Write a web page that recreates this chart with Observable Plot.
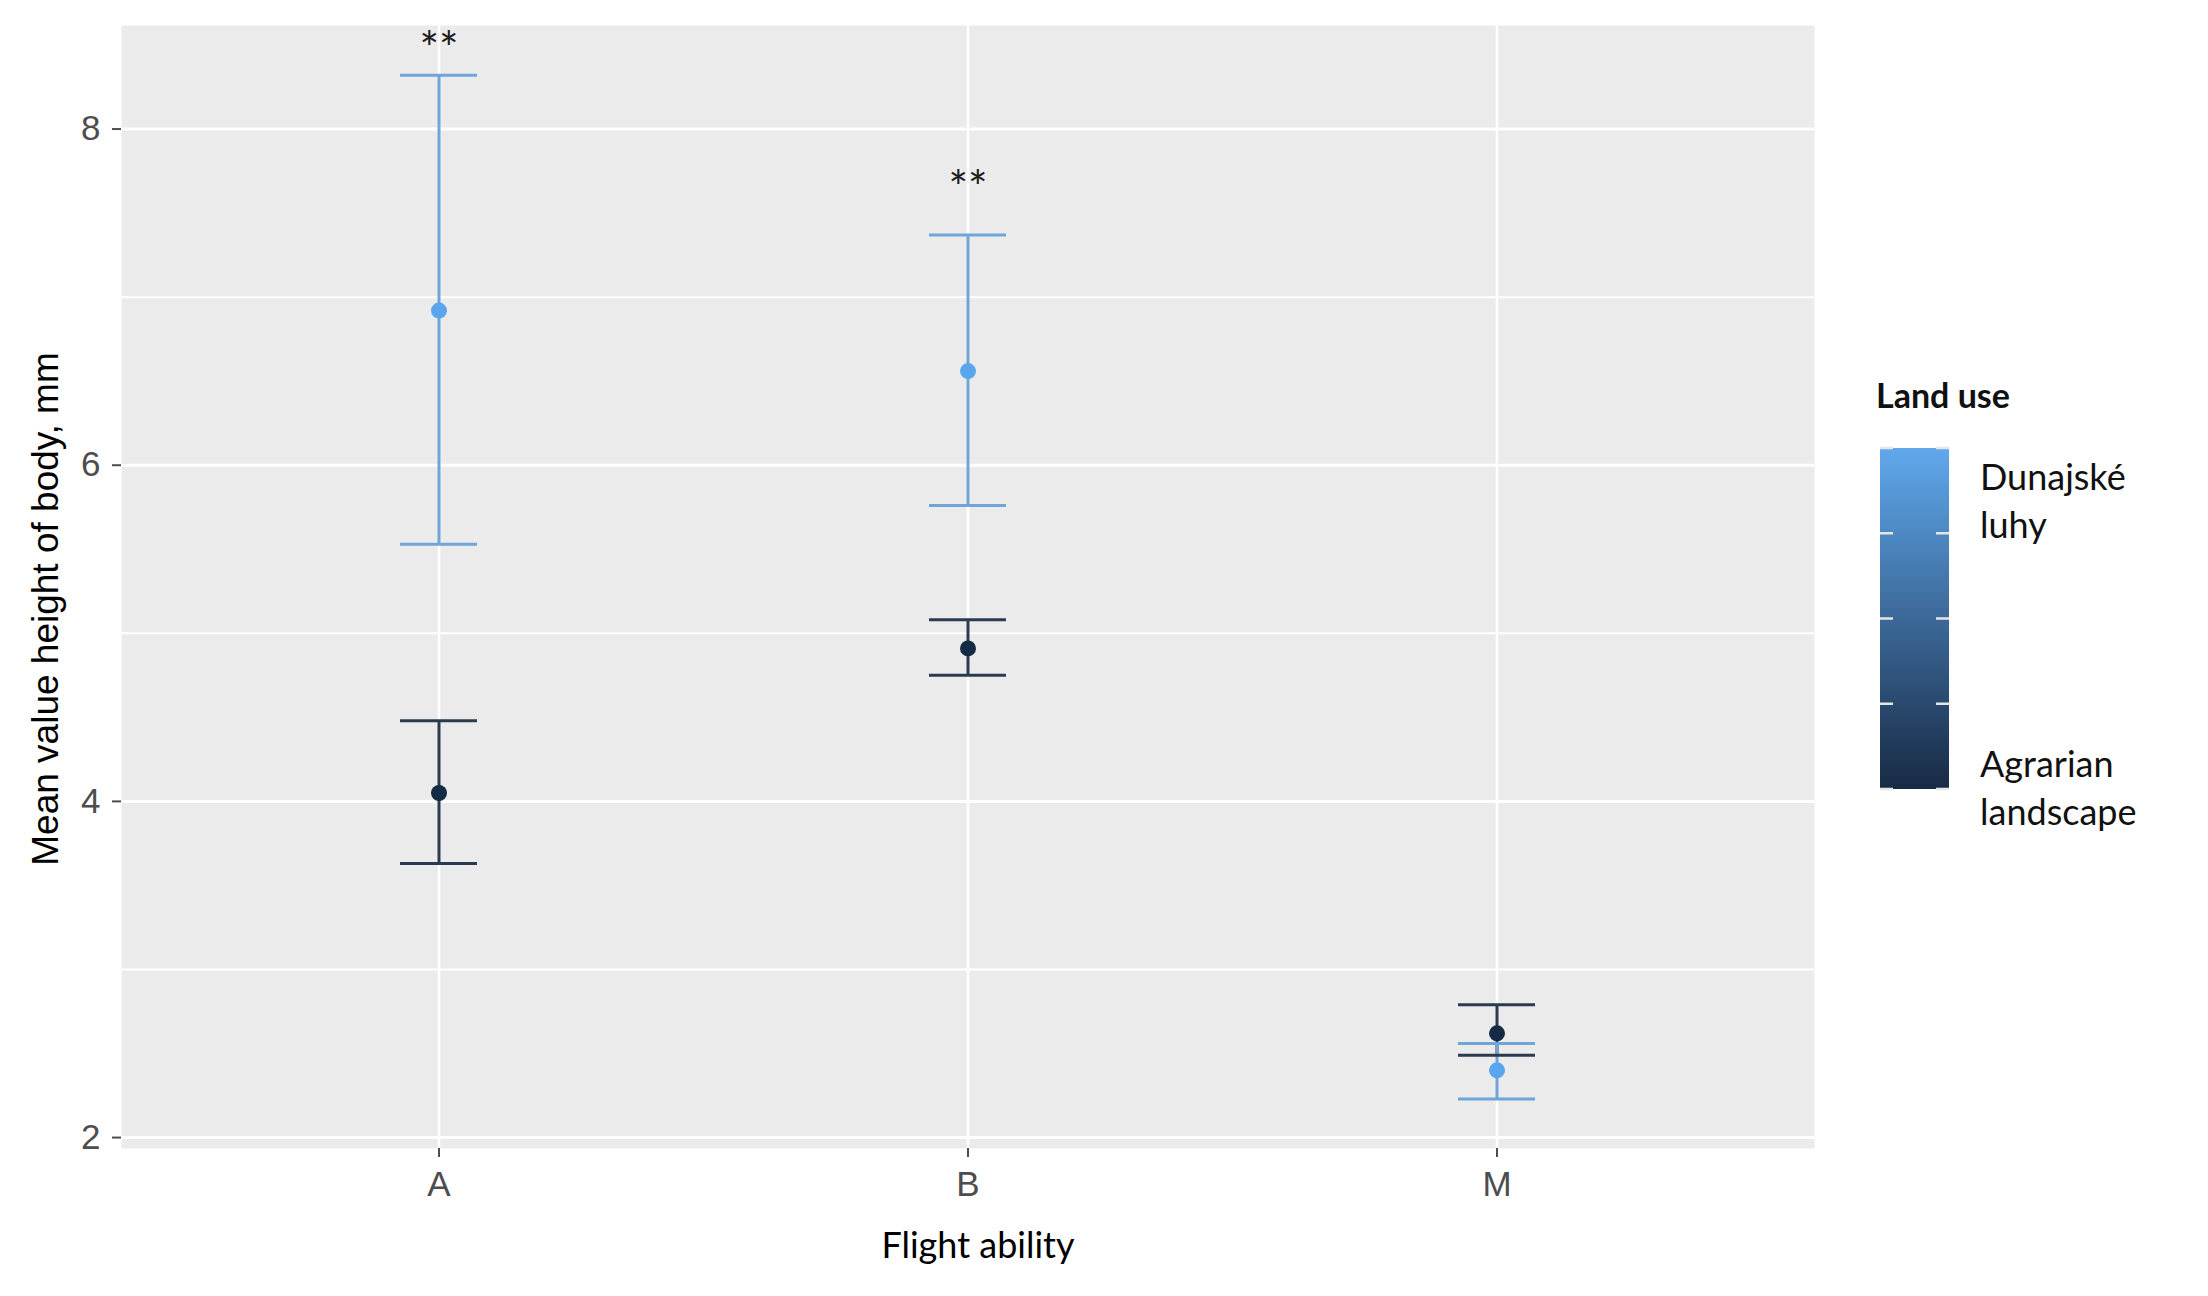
<!DOCTYPE html>
<html><head><meta charset="utf-8">
<script src="https://cdn.jsdelivr.net/npm/d3@7"></script>
<script src="https://cdn.jsdelivr.net/npm/@observablehq/plot@0.6"></script>
<style>
body{margin:0;background:#fff;}
#wrap{position:relative;width:2208px;height:1296px;overflow:hidden;background:#fff;}
#legend{position:absolute;left:0;top:0;pointer-events:none;}
</style></head><body>
<div id="wrap"><div id="chart"></div><svg id="legend" width="2208" height="1296" xmlns="http://www.w3.org/2000/svg"></svg></div>
<script>
// ---- data ----
const categories = ["A", "B", "M"];
const landUse = ["Dunajské luhy", "Agrarian landscape"];
const pointColors = ["#5AA6EC", "#132B43"];
const lineColors = ["#6FA5D8", "#2A3B4F"];
const gradientColors = ["#60A8EC", "#172A44"];
const dunajMean  = [6.92, 6.56, 2.40];
const dunajLower = [5.53, 5.76, 2.23];
const dunajUpper = [8.32, 7.37, 2.56];
const agrMean  = [4.05, 4.91, 2.62];
const agrLower = [3.63, 4.75, 2.49];
const agrUpper = [4.48, 5.08, 2.79];
const signifLabels = ["**", "**", ""];
const signifY = [8.47, 7.64, null];
const yTicks = [2, 4, 6, 8];
const yMinor = [3, 5, 7];
const legendTitle = "Land use";
const legendTop = ["Dunajské", "luhy"];
const legendBottom = ["Agrarian", "landscape"];
const xTitle = "Flight ability";
const yTitle = "Mean value height of body, mm";

const rows = [];
categories.forEach((c, i) => {
  rows.push({cat: c, group: landUse[1], mean: agrMean[i], lower: agrLower[i], upper: agrUpper[i], pc: pointColors[1], lc: lineColors[1]});
  rows.push({cat: c, group: landUse[0], mean: dunajMean[i], lower: dunajLower[i], upper: dunajUpper[i], pc: pointColors[0], lc: lineColors[0]});
});
const signifRows = categories.map((c, i) => ({cat: c, label: signifLabels[i], y: signifY[i]})).filter(d => d.label);

const plot = Plot.plot({
  width: 2208, height: 1296,
  marginLeft: 121, marginRight: 394, marginTop: 25, marginBottom: 148,
  style: {fontFamily: "'Liberation Sans', Arial, sans-serif", background: "white", overflow: "visible"},
  x: {type: "band", domain: categories, paddingInner: 0.854, paddingOuter: 0.527},
  y: {domain: [1.935, 8.616]},
  color: {type: "identity"},
  marks: [
    Plot.frame({fill: "#EBEBEB", stroke: "none"}),
    Plot.ruleY(yMinor, {stroke: "white", strokeWidth: 2}),
    Plot.ruleY(yTicks, {stroke: "white", strokeWidth: 3}),
    Plot.ruleX(categories, {x: d => d, stroke: "white", strokeWidth: 2.5}),
    Plot.axisY({ticks: yTicks, tickFormat: d3.format("d"), tickSize: 9, tickPadding: 12, fontSize: 35, color: "#4D4D4D", strokeWidth: 2, label: null}),
    Plot.axisX({tickSize: 9, tickPadding: 14, fontSize: 35, color: "#4D4D4D", strokeWidth: 2, label: null}),
    Plot.ruleX(rows, {x: "cat", y1: "lower", y2: "upper", stroke: "lc", strokeWidth: 3}),
    Plot.tickY(rows, {x: "cat", y: "upper", stroke: "lc", strokeWidth: 3}),
    Plot.tickY(rows, {x: "cat", y: "lower", stroke: "lc", strokeWidth: 3}),
    Plot.dot(rows, {x: "cat", y: "mean", fill: "pc", r: 8}),
    Plot.text(signifRows, {x: "cat", y: "y", text: "label", fontSize: 46, fontFamily: "Lato", fill: "#1a1a1a"}),
    Plot.text([yTitle], {text: d => d, frameAnchor: "left", textAnchor: "middle", rotate: -90, dx: -75, dy: 22, fontSize: 37, fill: "black"}),
    Plot.text([xTitle], {text: d => d, frameAnchor: "bottom", dx: 10, dy: 109, fontSize: 36, fontFamily: "Lato", fill: "black"})
  ]
});
document.getElementById("chart").appendChild(plot);

// ---- legend (colorbar) ----
const svg = d3.select("#legend");
const bx = 1880, by = 448, bw = 69, bh = 341;
const defs = svg.append("defs");
const grad = defs.append("linearGradient").attr("id", "lg").attr("x1", 0).attr("x2", 0).attr("y1", 0).attr("y2", 1);
grad.append("stop").attr("offset", "0%").attr("stop-color", gradientColors[0]);
grad.append("stop").attr("offset", "100%").attr("stop-color", gradientColors[1]);
svg.append("text").attr("x", 1876).attr("y", 408).attr("font-family", "Lato").attr("font-weight", "bold")
  .attr("font-size", 34).attr("fill", "#111").text(legendTitle);
svg.append("rect").attr("x", bx).attr("y", by).attr("width", bw).attr("height", bh).attr("fill", "url(#lg)");
for (let i = 0; i <= 4; i++) {
  const ty = by + bh * i / 4;
  svg.append("line").attr("x1", bx).attr("x2", bx + 13).attr("y1", ty).attr("y2", ty).attr("stroke", "#e6e6e6").attr("stroke-width", 2.5);
  svg.append("line").attr("x1", bx + bw - 13).attr("x2", bx + bw).attr("y1", ty).attr("y2", ty).attr("stroke", "#e6e6e6").attr("stroke-width", 2.5);
}
legendTop.forEach((t, i) => svg.append("text").attr("x", 1980).attr("y", 490 + i * 48).attr("font-family", "Lato").attr("font-size", 36).attr("fill", "#111").text(t));
legendBottom.forEach((t, i) => svg.append("text").attr("x", 1980).attr("y", 777 + i * 48).attr("font-family", "Lato").attr("font-size", 36).attr("fill", "#111").text(t));
</script>
</body></html>
